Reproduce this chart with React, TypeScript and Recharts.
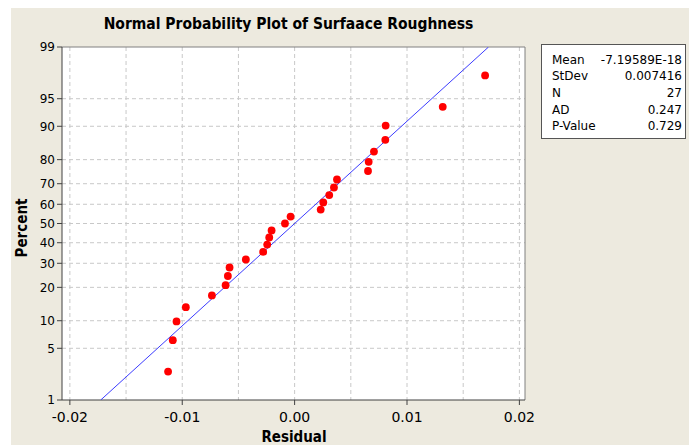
import React from 'react'
import {
  ScatterChart,
  Scatter,
  XAxis,
  YAxis,
  CartesianGrid,
  ReferenceLine,
  Label
} from 'recharts'

// residuals, sorted
const RESIDUALS = [
  -0.01126, -0.01084, -0.01051, -0.00968, -0.00736, -0.00614, -0.00594, -0.00579, -0.00434,
  -0.0028, -0.00244, -0.00226, -0.00205, -0.00086, -0.00036, 0.00232, 0.00255, 0.00308,
  0.0035, 0.00377, 0.00653, 0.00659, 0.00706, 0.00807, 0.0081, 0.01318, 0.01695
]
// plotting positions (percent)
const PERCENTS = [
  2.55, 6.2, 9.85, 13.5, 17.15, 20.8, 24.45, 28.1, 31.75, 35.4, 39.05, 42.7, 46.35, 50,
  53.65, 57.3, 60.95, 64.6, 68.25, 71.9, 75.55, 79.2, 82.85, 86.5, 90.15, 93.8, 97.45
]
const PCT_TICKS = [1, 5, 10, 20, 30, 40, 50, 60, 70, 80, 90, 95, 99]
const X_TICKS = [-0.02, -0.01, 0, 0.01, 0.02]
const X_GRID = [-0.02, -0.015, -0.01, -0.005, 0, 0.005, 0.01, 0.015, 0.02]

const MEAN = -7.19589e-18
const STDEV = 0.007416
const STATS = [
  ['Mean', '-7.19589E-18'],
  ['StDev', '0.007416'],
  ['N', '27'],
  ['AD', '0.247'],
  ['P-Value', '0.729']
]

// inverse normal cdf (Acklam)
function probit(p: number) {
  const a = [-39.69683028665376, 220.9460984245205, -275.9285104469687, 138.357751867269, -30.66479806614716, 2.506628277459239]
  const b = [-54.47609879822406, 161.5858368580409, -155.6989798598866, 66.80131188771972, -13.28068155288572]
  const c = [-0.007784894002430293, -0.3223964580411365, -2.400758277161838, -2.549732539343734, 4.374664141464968, 2.938163982698783]
  const d = [0.007784695709041462, 0.3224671290700398, 2.445134137142996, 3.754408661907416]
  const pl = 0.02425
  if (p < pl) {
    const q = Math.sqrt(-2 * Math.log(p))
    return (((((c[0] * q + c[1]) * q + c[2]) * q + c[3]) * q + c[4]) * q + c[5]) /
      ((((d[0] * q + d[1]) * q + d[2]) * q + d[3]) * q + 1)
  }
  if (p > 1 - pl) {
    const q = Math.sqrt(-2 * Math.log(1 - p))
    return -(((((c[0] * q + c[1]) * q + c[2]) * q + c[3]) * q + c[4]) * q + c[5]) /
      ((((d[0] * q + d[1]) * q + d[2]) * q + d[3]) * q + 1)
  }
  const q = p - 0.5
  const r = q * q
  return (((((a[0] * r + a[1]) * r + a[2]) * r + a[3]) * r + a[4]) * r + a[5]) * q /
    (((((b[0] * r + b[1]) * r + b[2]) * r + b[3]) * r + b[4]) * r + 1)
}

const points = RESIDUALS.map((r, i) => ({ x: r, y: probit(PERCENTS[i] / 100) }))
const fitLine = [1, 99].map(p => ({ x: MEAN + STDEV * probit(p / 100), y: probit(p / 100) }))
const yTicks = PCT_TICKS.map(p => probit(p / 100))
const Y_MIN = yTicks[0]
const Y_MAX = yTicks[yTicks.length - 1]
const X_MIN = -0.0207
const X_MAX = 0.0205

const condensed = "'DejaVu Sans Condensed', 'DejaVu Sans', sans-serif"

export default function App() {
  const pctLabel = (v: number) => {
    let best = 0
    yTicks.forEach((t, i) => {
      if (Math.abs(t - v) < Math.abs(yTicks[best] - v)) best = i
    })
    return String(PCT_TICKS[best])
  }

  return (
    <div style={{ position: 'absolute', left: 0, top: 0, width: 689, height: 445, background: '#fff' }}>
      <div style={{ position: 'absolute', left: 11, top: 8, width: 678, height: 437, background: '#edeadf' }} />
      <div
        style={{
          position: 'absolute', left: 0, top: 14, width: 577, textAlign: 'center',
          fontFamily: condensed, fontStretch: 'condensed', fontWeight: 'bold', fontSize: 15.5,
          lineHeight: '20px', color: '#000'
        }}
      >
        Normal Probability Plot of Surfaace Roughness
      </div>
      <div style={{ position: 'absolute', left: 0, top: 0 }}>
        <ScatterChart width={689} height={445} margin={{ top: 47, right: 164, bottom: 0, left: 0 }}>
          <CartesianGrid
            fill="#fff"
            stroke="#c8c8c8"
            strokeDasharray="4 3"
            horizontalValues={yTicks.slice(1, -1)}
            verticalValues={X_GRID}
          />
          <XAxis
            type="number"
            dataKey="x"
            domain={[X_MIN, X_MAX]}
            allowDataOverflow
            ticks={X_TICKS}
            interval={0}
            tickFormatter={(v: number) => v.toFixed(2)}
            tick={{ fontSize: 14, fill: '#000', fontFamily: 'DejaVu Sans' }}
            tickSize={5}
            tickMargin={7}
            height={45}
            axisLine={{ stroke: '#404040' }}
            tickLine={{ stroke: '#404040' }}
          >
            <Label
              content={() => (
                <text x={294} y={442} textAnchor="middle" fontFamily={condensed} fontStretch="condensed" fontWeight="bold" fontSize={15} fill="#000">
                  Residual
                </text>
              )}
            />
          </XAxis>
          <YAxis
            type="number"
            dataKey="y"
            domain={[Y_MIN, Y_MAX]}
            allowDataOverflow
            ticks={yTicks}
            interval={0}
            tickFormatter={pctLabel}
            tick={{ fontSize: 12, fill: '#000', fontFamily: 'DejaVu Sans' }}
            tickSize={5}
            tickMargin={2}
            width={62}
            axisLine={{ stroke: '#404040' }}
            tickLine={{ stroke: '#404040' }}
          >
            <Label
              content={() => (
                <text x={27} y={228} transform="rotate(-90 27 228)" textAnchor="middle" fontFamily={condensed} fontStretch="condensed" fontWeight="bold" fontSize={15} fill="#000">
                  Percent
                </text>
              )}
            />
          </YAxis>
          <ReferenceLine y={Y_MAX} stroke="#808080" />
          <ReferenceLine x={X_MAX} stroke="#808080" />
          <Scatter
            data={fitLine}
            line={{ stroke: '#3c3cff', strokeWidth: 1 }}
            shape={() => <g />}
            isAnimationActive={false}
          />
          <Scatter
            data={points}
            shape={(p: any) => <circle cx={p.cx} cy={p.cy} r={3.9} fill="#ff0000" />}
            isAnimationActive={false}
          />
        </ScatterChart>
      </div>
      <div
        style={{
          position: 'absolute', left: 541, top: 44, width: 145, height: 95, boxSizing: 'border-box',
          border: '1px solid #555', background: '#fff', padding: '6.5px 3px 0 10px',
          fontFamily: 'DejaVu Sans', fontSize: 12, lineHeight: '16.7px', color: '#000'
        }}
      >
        {STATS.map(([k, v]) => (
          <div key={k} style={{ display: 'flex', justifyContent: 'space-between' }}>
            <span>{k}</span>
            <span>{v}</span>
          </div>
        ))}
      </div>
    </div>
  )
}
